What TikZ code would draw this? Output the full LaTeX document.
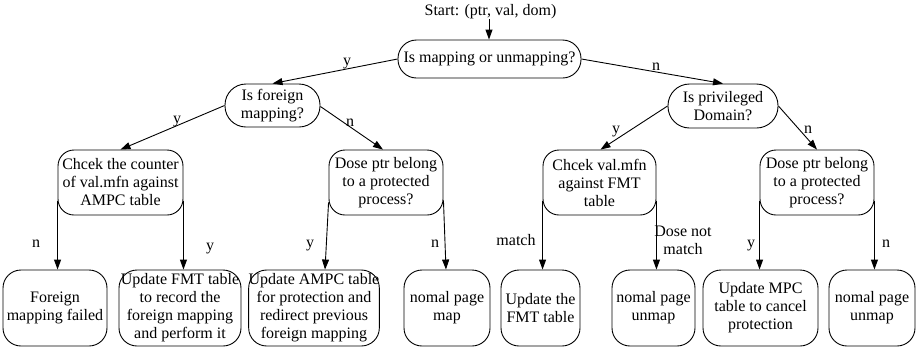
\documentclass[tikz,border=0pt]{standalone}
\usepackage{fontspec}
\setmainfont{Liberation Serif}
\usetikzlibrary{arrows.meta}
\begin{document}
\begin{tikzpicture}[x=1pt,y=-1pt,
  every node/.style={font=\fontsize{16}{18}\selectfont, inner sep=0pt, align=center},
  pill/.style={draw, line width=0.9pt, minimum height=#1, rounded corners=#1/2-0.5pt},
  midbox/.style={draw, line width=0.9pt, minimum height=65pt, rounded corners=16pt},
  leafbox/.style={draw, line width=0.9pt, minimum height=76pt, rounded corners=18pt},
  arr/.style={line width=0.9pt, -{Triangle[length=10pt,width=7pt]}},
  lbl/.style={anchor=base}
]
\useasboundingbox (0,0) rectangle (916,349);

% entry
\node[anchor=base] (start) at (490.5,15) {Start: (ptr, val, dom)};
\coordinate (s0) at (489,19);

% decisions
\node[pill=38pt, minimum width=183pt] (root) at (489.5,59) {Is mapping or unmapping?};
\node[pill=43pt, minimum width=95pt] (fmap) at (272.5,105.5) {Is foreign\\mapping?};
\node[pill=44pt, minimum width=110pt] (priv) at (723,106) {Is privileged\\Domain?};

\node[midbox, minimum width=125pt] (cnt) at (120.5,182.5) {Chcek the counter\\of val.mfn against\\AMPC table};
\node[midbox, minimum width=114pt] (protA) at (386,182.5) {Dose ptr belong\\to a protected\\process?};
\node[midbox, minimum width=113pt] (fmt) at (599.5,182.5) {Chcek val.mfn\\against FMT\\table};
\node[midbox, minimum width=114pt] (protB) at (817,182.5) {Dose ptr belong\\to a protected\\process?};

% outcomes
\node[leafbox, minimum width=104pt] (fail) at (55,308) {Foreign\\mapping failed};
\node[leafbox, minimum width=122pt] (upfmt) at (180,308) {Update FMT table\\to record the\\foreign mapping\\and perform it};
\node[leafbox, minimum width=124pt] (upampc) at (314,308) {Update AMPC table\\for protection and\\redirect previous\\foreign mapping};
\node[leafbox, minimum width=86pt] (nmap) at (447,308) {nomal page\\map};
\node[leafbox, minimum width=79pt] (upthe) at (540.5,308) {Update the\\FMT table};
\node[leafbox, minimum width=83pt] (unmapA) at (653.5,308) {nomal page\\unmap};
\node[leafbox, minimum width=115pt] (upmpc) at (760.5,308) {Update MPC\\table to cancel\\protection};
\node[leafbox, minimum width=86pt] (unmapB) at (872,308) {nomal page\\unmap};

% connectors
\draw[arr] (s0) -- (root.north -| s0);
\draw[arr] (root.west) -- (fmap.north);
\draw[arr] (root.east) -- (priv.north);
\draw[arr] (fmap.west) -- (cnt.north);
\draw[arr] ([yshift=-1pt]fmap.east) -- ([xshift=-3pt]protA.north);
\draw[arr] (priv.west) -- ([xshift=1pt]fmt.north);
\draw[arr] (priv.east) -- (protB.north);

\draw[arr] ([yshift=14pt]cnt.south west) -- (cnt.south west |- fail.north);
\draw[arr] ([yshift=14pt]cnt.south east) -- (cnt.south east |- upfmt.north);
\draw[arr] ([yshift=13pt]protA.south west) -- ([xshift=11pt]upampc.north);
\draw[arr] ([yshift=15pt]protA.south east) -- ([xshift=-1pt]nmap.north);
\draw[arr] ([yshift=14pt]fmt.south west) -- (fmt.south west |- upthe.north);
\draw[arr] ([yshift=14pt]fmt.south east) -- (fmt.south east |- unmapA.north);
\draw[arr] ([yshift=14pt]protB.south west) -- (protB.south west |- upmpc.north);
\draw[arr] ([yshift=14pt]protB.south east) -- (protB.south east |- unmapB.north);

% branch labels
\node[lbl] (l1) at (347,65) {y};
\node[lbl] (l2) at (656,70) {n};
\node[lbl] (l3) at (177,123) {y};
\node[lbl] (l4) at (350,126) {n};
\node[lbl] (l5) at (616,133) {y};
\node[lbl] (l6) at (808,133) {n};
\node[lbl] (l7) at (36,247) {n};
\node[lbl] (l8) at (210,250) {y};
\node[lbl] (l9) at (310,247) {y};
\node[lbl] (l10) at (435,247) {n};
\node[lbl] (l11) at (516,245) {match};
\node[lbl] (l12) at (683,236) {Dose not};
\node[lbl] (l13) at (683,254) {match};
\node[lbl] (l14) at (751,247) {y};
\node[lbl] (l15) at (886,247) {n};
\end{tikzpicture}
\end{document}
